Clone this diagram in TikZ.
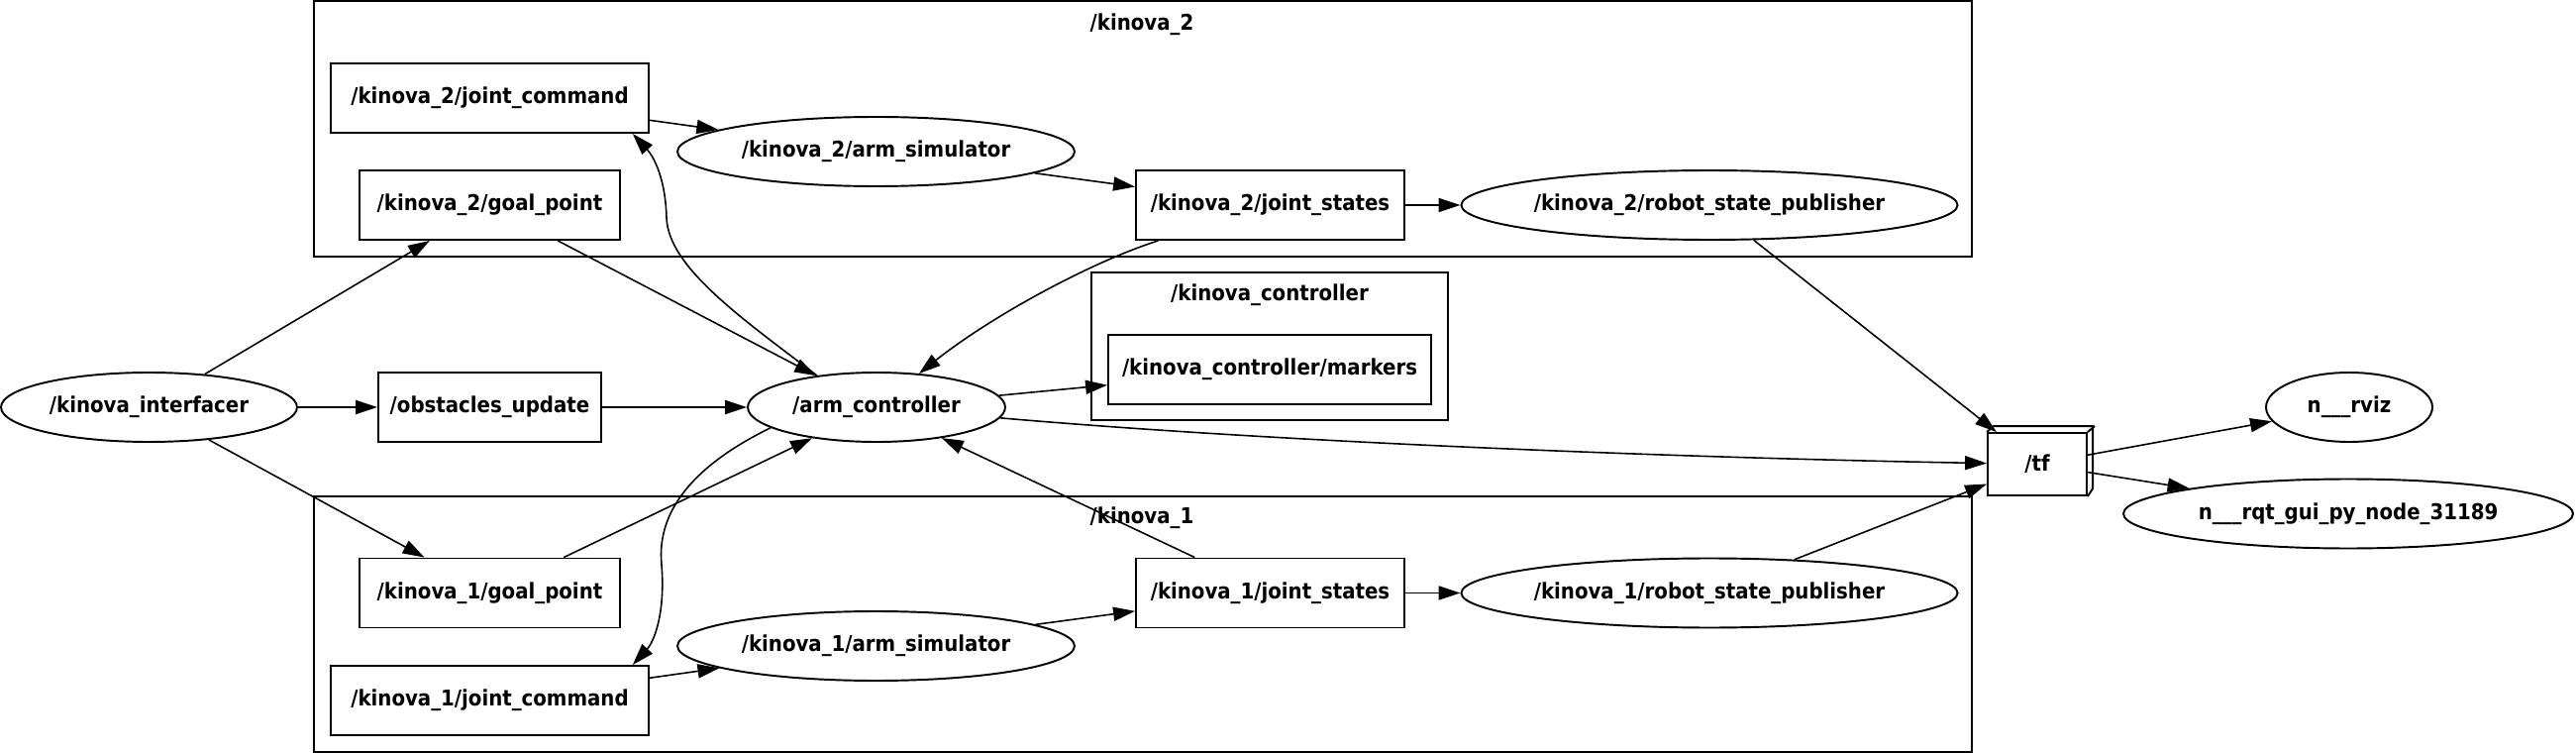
\documentclass[tikz,border=0pt]{standalone}
\usepackage{fontspec}
\setmainfont{DejaVu Sans Condensed}
\usepackage{tikz}
\usetikzlibrary{shapes,arrows.meta,positioning,calc}

\begin{document}
\begin{tikzpicture}[x=0.02cm, y=-0.02cm,
  every node/.style={font=\fontsize{12.5}{15}\selectfont\bfseries},
  topicbox/.style={draw, line width=1.1pt, rectangle, inner sep=0pt, minimum height=1.4cm},
  rosnode/.style={draw, line width=1.1pt, ellipse, inner sep=0pt, minimum height=1.4cm},
  groupframe/.style={draw, line width=1.2pt},
  link/.style={line width=0.9pt, -{Triangle[length=12.5pt, width=8pt]}}
]
\useasboundingbox (0,0) rectangle (2601,760);

% === Clusters ===
\draw[groupframe] (317,1) rectangle (1991,259);
\node (lbltwo) at (1153,25) {/kinova\_2};
\draw[groupframe] (1102,275) rectangle (1462,424);
\node (lblctl) at (1282,298) {/kinova\_controller};
\draw[groupframe] (317,501) rectangle (1991,759);
\node (lblone) at (1153,523) {/kinova\_1};

% === /kinova_2 ===
\node[topicbox, minimum width=6.42cm] (jctwo) at (494.5,99) {/kinova\_2/joint\_command};
\node[topicbox, minimum width=5.26cm] (gptwo) at (494.5,207) {/kinova\_2/goal\_point};
\node[rosnode, minimum width=8.02cm] (simtwo) at (884.5,153) {/kinova\_2/arm\_simulator};
\node[topicbox, minimum width=5.42cm] (jstwo) at (1282.5,207) {/kinova\_2/joint\_states};
\node[rosnode, minimum width=9.92cm] (rsptwo) at (1726,207) {/kinova\_2/robot\_state\_publisher};

% === Middle row ===
\node[rosnode, minimum width=5.98cm] (kinterfacer) at (150.5,411) {/kinova\_interfacer};
\node[topicbox, minimum width=4.5cm] (obst) at (494.5,411) {/obstacles\_update};
\node[rosnode, minimum width=5.2cm] (armctl) at (885,411) {/arm\_controller};
\node[topicbox, minimum width=6.52cm] (markers) at (1282,373) {/kinova\_controller/markers};

% /tf drawn as a box with depth
\node[topicbox, minimum width=2cm, minimum height=1.26cm] (tf) at (2057,468.5) {/tf};
\draw[line width=1.1pt] (tf.north west) -- ++(7,-6) -- ++(100,0) -- ++(0,63) -- (tf.south east);
\draw[line width=1.1pt] (tf.north east) -- ++(7,-6);

\node[rosnode, minimum width=3.36cm] (rviz) at (2372,411) {n\_\_\_rviz};
\node[rosnode, minimum width=9.08cm] (rqt) at (2371,518.5) {n\_\_\_rqt\_gui\_py\_node\_31189};

% === /kinova_1 ===
\node[topicbox, minimum width=5.26cm] (gpone) at (494.5,598.5) {/kinova\_1/goal\_point};
\node[topicbox, minimum width=6.42cm] (jcone) at (494.5,707) {/kinova\_1/joint\_command};
\node[rosnode, minimum width=8.02cm] (simone) at (884.5,652) {/kinova\_1/arm\_simulator};
\node[topicbox, minimum width=5.42cm] (jsone) at (1282.5,598.5) {/kinova\_1/joint\_states};
\node[rosnode, minimum width=9.92cm] (rspone) at (1726,598.5) {/kinova\_1/robot\_state\_publisher};

% === Edges ===
\draw[link] (kinterfacer) -- (gptwo);
\draw[link] (kinterfacer) -- (obst);
\draw[link] (kinterfacer) -- (gpone);
\draw[link] (obst) -- (armctl);
\draw[link] (gptwo) -- (armctl);
\draw[link] (gpone) -- (armctl);

\draw[link] (jctwo) -- (simtwo);
\draw[link] (simtwo) -- (jstwo);
\draw[link] (jstwo) -- (rsptwo);
\draw[link] (jcone) -- (simone);
\draw[link] (simone) -- (jsone);
\draw[link] (jsone) -- (rspone);

% commands from the controller
\draw[link] (armctl.152) .. controls (750,322) and (675,270) .. (673,220)
  .. controls (672,180) and (660,158) .. (jctwo.-14);
\draw[link] (armctl.191) .. controls (710,465) and (662,510) .. (668,570)
  .. controls (672,620) and (660,648) .. (jcone.14);

% states back to the controller
\draw[link] (jstwo) .. controls (1100,265) and (1000,320) .. (armctl);
\draw[link] (jsone) -- (armctl);
\draw[link] (armctl) -- (markers);

% transforms
\draw[link] (armctl) .. controls (1300,447) and (1700,462) .. (tf);
\draw[link] (rsptwo) -- (tf);
\draw[link] (rspone) -- (tf);
\draw[link] (tf) -- (rviz);
\draw[link] (tf) -- (rqt);

\end{tikzpicture}
\end{document}
